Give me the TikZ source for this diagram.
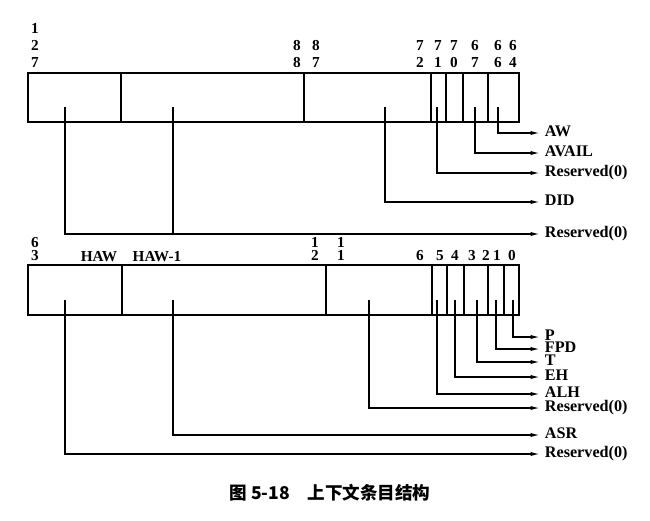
\documentclass[tikz,border=0pt]{standalone}
\usepackage{fontspec}
\setmainfont{Liberation Serif}
\newfontfamily\cjk{Noto Sans CJK SC}
\usetikzlibrary{arrows.meta}
\usetikzlibrary{math}

\begin{document}
\begin{tikzpicture}[x=0.03cm,y=-0.03cm,
  >={Latex[length=8pt,width=3.6pt]},
  wire/.style={line width=1.2pt},
  bitno/.style={anchor=south, inner sep=0pt, align=center,
    font=\bfseries\fontsize{13}{14.5}\selectfont},
  bitnob/.style={bitno, font=\bfseries\fontsize{13}{11}\selectfont},
  fld/.style={anchor=west, inner ysep=0pt, inner xsep=4pt, text height=0.66em,
    text depth=0pt, font=\bfseries\fontsize{13.8}{15}\selectfont},
]
\tikzmath{
\xl=28; \xr=519; \xe=540;
\ya=73; \yb=122; \ys=107;
\yc=265; \yd=315; \yt=300;
}
\useasboundingbox (0,0) rectangle (650,520);

 %top entry:
 \draw[wire] (\xl,\ya) rectangle (\xr,\yb);
 \foreach \x in {121,304,431,446,463,488}
   \draw[wire] (\x,\ya) -- (\x,\yb);

 \node[bitno] (t127) at (35,68) {1\\2\\7};
 \node[bitno] (t88) at (297,68) {8\\8};
 \node[bitno] (t87) at (316,68) {8\\7};
 \foreach \x/\a/\b in {420/7/2,438/7/1,454/7/0,475/6/7,498/6/6,513/6/4}
   \node[bitno] (t\a\b) at (\x,68) {\a\\\b};

 %bottom entry:
 \draw[wire] (\xl,\yc) rectangle (\xr,\yd);
 \foreach \x in {122,326,432,447,464,488,504}
   \draw[wire] (\x,\yc) -- (\x,\yd);

 \node[bitnob] (b63) at (35,261) {6\\3};
 \node[bitno, anchor=base] (haw) at (99,261) {HAW};
 \node[bitno, anchor=base] (haw1) at (157,261) {HAW-1};
 \node[bitnob] (b12) at (315,261) {1\\2};
 \node[bitnob] (b11) at (341,261) {1\\1};
 \foreach \x/\n in {420/6,440/5,455/4,472/3,486/2,497/1,512/0}
   \node[bitno] (b\n) at (\x,261) {\n};

 %field names:
 \node[fld] (aw) at (\xe,133) {AW};
 \node[fld] (avail) at (\xe,153) {AVAIL};
 \node[fld] (rsvA) at (\xe,173) {Reserved(0)};
 \node[fld] (did) at (\xe,202) {DID};
 \node[fld] (rsvB) at (\xe,234) {Reserved(0)};

 \node[fld] (p) at (\xe,337) {P};
 \node[fld] (fpd) at (\xe,349) {FPD};
 \node[fld] (t) at (\xe,362) {T};
 \node[fld] (eh) at (\xe,377) {EH};
 \node[fld] (alh) at (\xe,394) {ALH};
 \node[fld] (rsvC) at (\xe,408) {Reserved(0)};
 \node[fld] (asr) at (\xe,435) {ASR};
 \node[fld] (rsvD) at (\xe,454) {Reserved(0)};

 %connectors:
 \draw[wire,->] (498,\ys) |- (aw.west);
 \draw[wire,->] (475,\ys) |- (avail.west);
 \draw[wire,->] (437,\ys) |- (rsvA.west);
 \draw[wire,->] (385,\ys) |- (did.west);
 \draw[wire,->] (65,\ys) |- (rsvB.west);
 \draw[wire] (173,\ys) -- (173,234);

 \draw[wire,->] (513,\yt) |- (p.west);
 \draw[wire,->] (496,\yt) |- (fpd.west);
 \draw[wire,->] (477,\yt) |- (t.west);
 \draw[wire,->] (455,\yt) |- (eh.west);
 \draw[wire,->] (437,\yt) |- (alh.west);
 \draw[wire,->] (369,\yt) |- (rsvC.west);
 \draw[wire,->] (173,\yt) |- (asr.west);
 \draw[wire,->] (65,\yt) |- (rsvD.west);

 \node[font=\cjk\bfseries\fontsize{15}{16}\selectfont] (cap) at (330,493)
   {图 5-18\quad 上下文条目结构};
\end{tikzpicture}
\end{document}
